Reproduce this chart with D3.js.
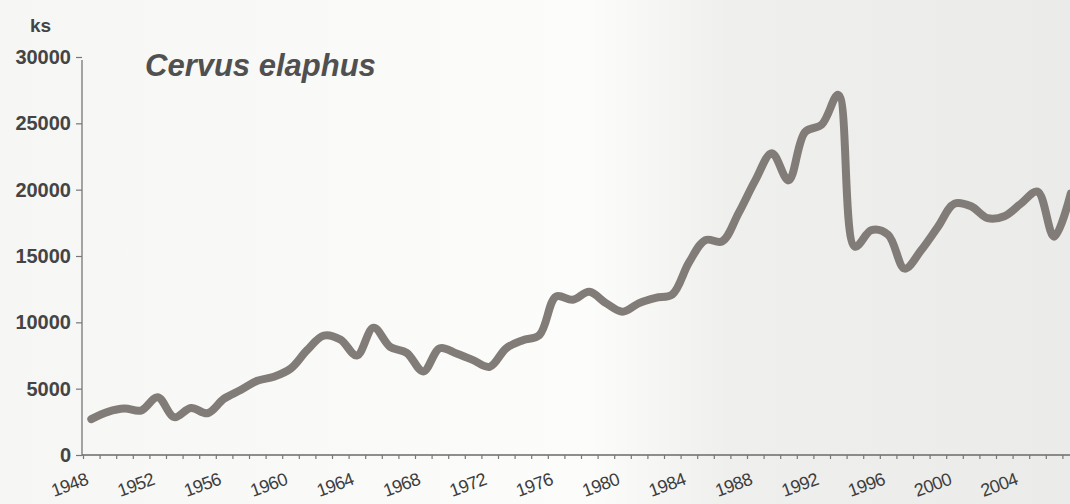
<!DOCTYPE html>
<html>
<head>
<meta charset="utf-8">
<script src="https://cdn.jsdelivr.net/npm/d3@7"></script>
<style>
  html, body { margin: 0; padding: 0; background: #f6f6f4; }
  svg { display: block; }
</style>
</head>
<body>
<svg id="chart" width="1070" height="504"></svg>
<script>
const years = d3.range(1948, 2008);
const values = [
  2700, 3250, 3500, 3350, 4350, 2850, 3550, 3150, 4250, 4900,
  5600, 5900, 6500, 7900, 9000, 8700, 7500, 9600, 8150, 7700,
  6300, 8050, 7650, 7150, 6650, 8050, 8650, 9050, 11950, 11700,
  12300, 11450, 10800, 11450, 11850, 12100, 14500, 16200, 16100, 18250,
  20700, 22750, 20700, 24350, 24900, 27150, 15700, 16950, 16600, 14050,
  15450, 17200, 18950, 18750, 17850, 18000, 18950, 19850, 16450, 19700
];
const yTicks = [0, 5000, 10000, 15000, 20000, 25000, 30000];
const xLabelYears = [1948, 1952, 1956, 1960, 1964, 1968, 1972, 1976, 1980, 1984, 1988, 1992, 1996, 2000, 2004];
const title = "Cervus elaphus";
const unit = "ks";

const W = 1070, H = 504;
const svg = d3.select("#chart");

// background: scanned paper, whiter left, greyer right
const defs = svg.append("defs");
const grad = defs.append("linearGradient").attr("id", "bg").attr("x1", "0").attr("x2", "1").attr("y1", "0").attr("y2", "0");
grad.append("stop").attr("offset", "0").attr("stop-color", "#f6f6f4");
grad.append("stop").attr("offset", "0.55").attr("stop-color", "#fcfcfb");
grad.append("stop").attr("offset", "0.68").attr("stop-color", "#efefed");
grad.append("stop").attr("offset", "1").attr("stop-color", "#ebebe9");
svg.append("rect").attr("width", W).attr("height", H).attr("fill", "url(#bg)");

const x0 = 83, yearW = 16.6;
const x = d3.scaleLinear().domain([1948, 2008]).range([x0, x0 + 60 * yearW]);
const y = d3.scaleLinear().domain([0, 30000]).range([455, 57]);

// Y axis
const yAxis = d3.axisLeft(y).tickValues(yTicks).tickSize(6).tickPadding(5).tickFormat(d3.format("d"));
const gy = svg.append("g").attr("transform", `translate(${x0 - 1},0)`).call(yAxis);
gy.select(".domain").attr("stroke", "#777").attr("stroke-width", 1.3).attr("d", `M0,${y(30000) + 3}V${y(0)}`);
gy.selectAll(".tick line").attr("stroke", "#777").attr("stroke-width", 1.2);
gy.selectAll(".tick text")
  .attr("font-family", "Liberation Sans, Arial, sans-serif")
  .attr("font-size", 20).attr("font-weight", "bold").attr("fill", "#444");

// X axis tick marks (year boundaries)
const xAxis = d3.axisBottom(x).tickValues(d3.range(1948, 2009)).tickSize(4).tickFormat("");
const gx = svg.append("g").attr("transform", `translate(0,${y(0)})`).call(xAxis);
gx.select(".domain").attr("stroke", "#6a6a6a").attr("stroke-width", 1.5).attr("d", `M${x0 - 1},0H${W}`);
gx.selectAll(".tick line").attr("stroke", "#777").attr("stroke-width", 1.2);

// X labels (rotated, right end anchored at year centre)
svg.append("g").selectAll("text").data(xLabelYears).join("text")
  .attr("transform", d => `translate(${x(d + 0.5) - 2},${y(0) + 29}) rotate(-20)`)
  .attr("text-anchor", "end")
  .attr("font-family", "Liberation Sans Narrow, Arial Narrow, Liberation Sans, sans-serif")
  .attr("font-size", 18).attr("fill", "#3d3d3d")
  .attr("letter-spacing", "-0.6")
  .text(d => d);

// unit label
svg.append("text").attr("x", 30).attr("y", 32)
  .attr("font-family", "Liberation Sans, Arial, sans-serif")
  .attr("font-size", 19).attr("font-weight", "bold").attr("fill", "#444").text(unit);

// title
svg.append("text").attr("x", 145).attr("y", 76)
  .attr("font-family", "Liberation Sans, Arial, sans-serif")
  .attr("font-size", 31).attr("font-style", "italic").attr("font-weight", "bold").attr("fill", "#505050")
  .text(title);

// data line
const data = years.map((yr, i) => ({ yr, v: values[i] }));
const line = d3.line()
  .x(d => x(d.yr + 0.5))
  .y(d => y(d.v))
  .curve(d3.curveCatmullRom.alpha(0.5));
svg.append("path").datum(data)
  .attr("d", line)
  .attr("fill", "none")
  .attr("stroke", "#827c78")
  .attr("stroke-width", 8)
  .attr("stroke-linejoin", "round")
  .attr("stroke-linecap", "round");
</script>
</body>
</html>
